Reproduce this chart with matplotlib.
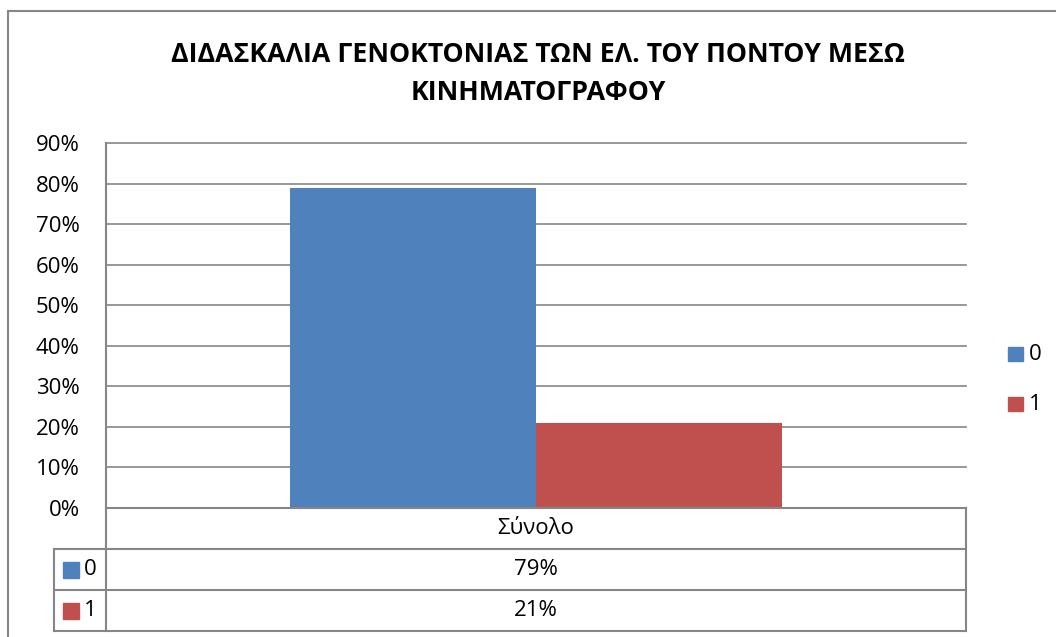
import matplotlib.pyplot as plt
from matplotlib.patches import Rectangle
from matplotlib.lines import Line2D

# data
title = "ΔΙΔΑΣΚΑΛΙΑ ΓΕΝΟΚΤΟΝΙΑΣ ΤΩΝ ΕΛ. ΤΟΥ ΠΟΝΤΟΥ ΜΕΣΩ\nΚΙΝΗΜΑΤΟΓΡΑΦΟΥ"
category = "Σύνολο"
series_names = ["0", "1"]
values = [0.79, 0.21]
colors = ["#4F81BD", "#C0504D"]
yticks = [0, 0.1, 0.2, 0.3, 0.4, 0.5, 0.6, 0.7, 0.8, 0.9]

plt.rcParams['font.family'] = ['Open Sans', 'Noto Sans', 'DejaVu Sans']

W, H = 1056, 637
GRAY = "#868686"
FS = 16


def fx(x):
    return x / W


def fy(y):
    return 1 - y / H


fig = plt.figure(figsize=(W / 100, H / 100), dpi=100)

# outer chart border (left and top only visible)
fig.add_artist(Line2D([fx(8), fx(8)], [fy(11), fy(H + 5)], color=GRAY, lw=1.5))
fig.add_artist(Line2D([fx(8), fx(W + 5)], [fy(11), fy(11)], color=GRAY, lw=1.5))

# title
fig.text(fx(538), fy(74), title, ha='center', va='center', fontsize=19.3,
         fontweight='bold', linespacing=1.62)

# plot area
ax = fig.add_axes([fx(106), fy(508), (966 - 106) / W, (508 - 143) / H])
bw = 246 / 860
for i, (v, c) in enumerate(zip(values, colors)):
    ax.bar(0.5 + (i - 0.5) * bw, v, width=bw, color=c, zorder=3)
ax.set_xlim(0, 1)
ax.set_ylim(0, 0.9)
ax.set_yticks(yticks)
ax.set_yticklabels([f"{int(round(t * 100))}%" for t in yticks], fontsize=FS)
ax.set_xticks([])
ax.tick_params(axis='y', length=0, pad=19)
ax.yaxis.grid(True, color=GRAY, lw=1.2, zorder=0)
for gl in ax.get_ygridlines():
    gl.set_clip_on(False)
for s in ['top', 'right', 'bottom']:
    ax.spines[s].set_visible(False)
ax.spines['left'].set_color(GRAY)
ax.spines['left'].set_linewidth(1.5)

# data table
row_y = [508, 549, 590, 631]
for y in row_y:
    x0 = 106 if y == 508 else 54
    fig.add_artist(Line2D([fx(x0), fx(966)], [fy(y), fy(y)], color=GRAY, lw=1.5))
fig.add_artist(Line2D([fx(106), fx(106)], [fy(508), fy(631)], color=GRAY, lw=1.5))
fig.add_artist(Line2D([fx(966), fx(966)], [fy(508), fy(631)], color=GRAY, lw=1.5))
fig.add_artist(Line2D([fx(54), fx(54)], [fy(549), fy(631)], color=GRAY, lw=1.5))

fig.text(fx(536), fy(529), category, ha='center', va='center', fontsize=FS)
for i, (name, v, c) in enumerate(zip(series_names, values, colors)):
    yc = (row_y[i + 1] + row_y[i + 2]) / 2
    fig.add_artist(Rectangle((fx(63), fy(yc + 8)), 16 / W, 16 / H, color=c))
    fig.text(fx(84), fy(yc), name, ha='left', va='center', fontsize=FS)
    fig.text(fx(536), fy(yc), f"{int(round(v * 100))}%", ha='center',
             va='center', fontsize=FS)

# legend
for i, (name, c) in enumerate(zip(series_names, colors)):
    yc = 354 + i * 50
    fig.add_artist(Rectangle((fx(1008), fy(yc + 7)), 15 / W, 14 / H, color=c))
    fig.text(fx(1029), fy(yc), name, ha='left', va='center', fontsize=FS)

fig.savefig("out.png", dpi=100)
